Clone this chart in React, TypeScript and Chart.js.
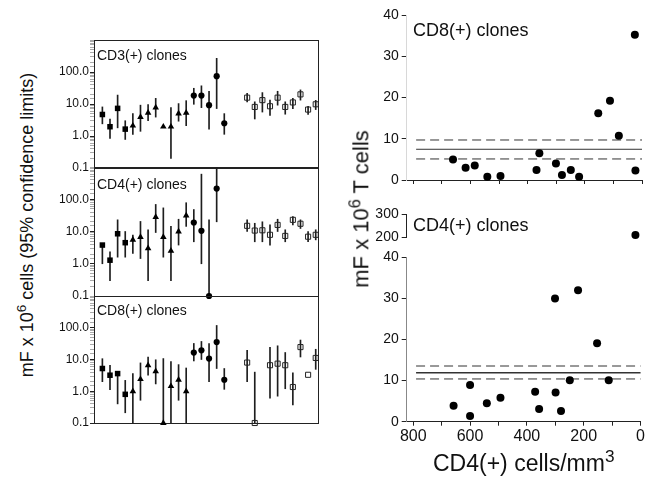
import React, { useEffect, useRef } from "react";
import { Chart, registerables } from "chart.js";

Chart.register(...registerables);

const FONT = '"Liberation Sans", Arial, Helvetica, sans-serif';
const INK = "#111";

// ---------------- Left panels: mF x 10^6 cells, 95% confidence limits ----------------
const squareSlots = [0, 1, 2, 3];
const triangleSlots = [4, 5, 6, 7, 8, 9, 10, 11];
const circleSlots = [12, 13, 14, 15, 16];
const openSquareSlots = [19, 20, 21, 22, 23, 24, 25, 26, 27, 28];

const cd3Values = [4.7, 1.95, 7.3, 1.64, 2.1, 3.9, 5.3, 7.7, 1.95, 1.95, 5.0, 5.3, 18.3, 18.3, 9.2, 74, 2.5, null, null, 15.8, 8.1, 13.2, 8.5, 15.8, 8.1, 11.2, 20, 6.7, 9.8];
const cd3Low = [2.4, 0.84, 1.8, 0.78, 1.13, 1.4, 3.0, 3.9, null, 0.2, 2.9, 2.1, 9.8, 7.7, 1.64, 7.2, 1.13, null, null, 11.7, 3.4, 5.6, 4.4, 9.2, 4.8, 7.2, 13.2, 4.7, 6.7];
const cd3High = [8.1, 3.4, 19, 3.0, 5.0, 9.2, 9.6, 15, null, 7.7, 10.3, 12.7, 31, 37, 25, 267, 5.0, null, null, 21.6, 11.7, 22.7, 13.2, 25, 11.7, 15, 27.6, 8.5, 13];

const cd4Values = [3.8, 1.29, 8.5, 4.5, 5.5, 6.7, 3.0, 28, 6.7, 2.5, 10, 31, 19, 10.5, 0.1, 214, null, null, null, 15, 10.7, 10.9, 7.9, 16, 7.3, 23, 17.4, 6.9, 7.9];
const cd4Low = [1.0, 0.3, 1.6, 1.6, 2.1, 1.45, 0.3, 9.3, 1.6, 0.3, 3.8, 14.4, 4.8, 1.0, 0.1, 20, null, null, null, 10, 4.8, 4.8, 3.8, 10, 4.8, 16, 12.4, 4.8, 5.5];
const cd4High = [3.8, 2.35, 23, 10, 7.8, 20.5, 11.3, 69, 54, 14.4, 24, 78, 48, 600, 23, 1000, null, null, null, 23, 18, 20, 16, 24, 11.3, 29, 23, 10, 11.3];

const cd8Values = [5.2, 3.2, 3.6, 0.8, 1.0, 2.4, 6.6, 4.25, 0.1, 1.44, 2.3, 1.0, 16.5, 19.5, 10.7, 35.5, 2.3, null, null, 8, 0.1, null, 6.6, 7.4, 6.6, 1.36, 24.6, 3.3, 11.2];
const cd8Low = [2.0, 1.13, 0.4, 0.21, 0.1, 0.52, 3.2, 1.7, 0.1, 0.1, 0.52, 0.1, 9, 10, 2.0, 5.2, 1.15, null, null, 2.0, 0.1, null, 0.6, 0.7, 1.2, 0.37, 12, null, 4.9];
const cd8High = [10.6, 6.6, 3.6, 2.2, 3.6, 7.8, 12, 9.8, 10.7, 8.6, 6.9, 5.4, 32, 37, 32, 118, 5.2, null, null, 19.5, 4, null, 24, 27, 16.6, 3.8, 41, null, 21];

const leftTickValues = [0.1, 1, 10, 100];
const leftTickLabels = ["0.1", "1.0", "10.0", "100.0"];

// ---------------- Right panels: mF vs CD4(+) cells/mm3 ----------------
const cd8CellCounts = [661, 617, 585, 541, 495, 369, 359, 301, 280, 249, 220, 153, 112, 81, 25, 23];
const cd8Mf = [5.0, 3.0, 3.5, 0.8, 1.0, 2.4, 6.5, 4.0, 1.2, 2.4, 0.8, 16.2, 19.2, 10.7, 35.2, 2.3];
const cd8Mean = 7.45;
const cd8LowerLimit = 5.1;
const cd8UpperLimit = 9.7;

const cd4CellCounts = [658, 600, 600, 541, 493, 371, 357, 301, 299, 280, 249, 220, 153, 112];
const cd4Mf = [3.9, 8.9, 1.4, 4.5, 5.8, 7.3, 3.1, 30.0, 7.1, 2.6, 10.1, 32.0, 19.1, 10.1];
const cd4HighCellCounts = [23];
const cd4HighMf = [210];
const cd4Mean = 11.9;
const cd4LowerLimit = 10.4;
const cd4UpperLimit = 13.55;

const refLineFrom = 790;
const refLineTo = 0;
const xTickLabelValues = [800, 600, 400, 200, 0];

// ---------------- helpers ----------------
const framePlugin = {
  id: "frame",
  beforeDatasetsDraw(chart: any) {
    const { ctx, chartArea } = chart;
    ctx.save();
    ctx.strokeStyle = "#222";
    ctx.lineWidth = 1;
    ctx.strokeRect(
      Math.round(chartArea.left) + 0.5,
      Math.round(chartArea.top) + 0.5,
      Math.round(chartArea.right - chartArea.left),
      Math.round(chartArea.bottom - chartArea.top)
    );
    ctx.restore();
  },
};

const sameLog = (a: number, b: number) => Math.abs(Math.log10(a) - Math.log10(b)) < 1e-6;

function leftPanelConfig(values: (number | null)[], low: (number | null)[], high: (number | null)[], padTop: number, padBottom: number): any {
  const pts = (slots: number[]) =>
    slots.filter((i) => values[i] != null).map((i) => ({ x: i, y: values[i] as number }));
  const bars = values
    .map((_, i) => (low[i] != null && high[i] != null ? { x: i, y: [low[i] as number, high[i] as number] } : null))
    .filter(Boolean);
  const pointBase = { type: "scatter", clip: false, order: 0, borderColor: "#000", borderWidth: 0 };
  return {
    type: "scatter",
    data: {
      datasets: [
        { type: "bar", data: bars, backgroundColor: "#1e1e1e", barThickness: 1, order: 2, clip: 0 },
        { ...pointBase, data: pts(squareSlots), pointStyle: "rect", pointRadius: 3.9, backgroundColor: "#000" },
        { ...pointBase, data: pts(triangleSlots), pointStyle: "triangle", pointRadius: 3.8, backgroundColor: "#000" },
        { ...pointBase, data: pts(circleSlots), pointStyle: "circle", pointRadius: 3.1, backgroundColor: "#000" },
        { ...pointBase, data: pts(openSquareSlots), pointStyle: "rect", pointRadius: 3.6, backgroundColor: "rgba(0,0,0,0)", borderWidth: 1, borderColor: "#222" },
      ],
    },
    options: {
      animation: false,
      responsive: false,
      devicePixelRatio: 1,
      events: [],
      layout: { padding: { top: padTop, bottom: padBottom, left: 0, right: 1 } },
      plugins: { legend: { display: false }, tooltip: { enabled: false } },
      scales: {
        x: { type: "linear", min: -1.1, max: 28.3, display: false, offset: false, grid: { offset: false } },
        y: {
          type: "logarithmic",
          min: 0.1,
          max: 1000,
          afterFit: (s: any) => {
            s.width = 54;
          },
          border: { display: true, color: "#555" },
          grid: {
            drawOnChartArea: false,
            tickLength: 4,
            tickColor: (c: any) =>
              c.tick && leftTickValues.some((t) => sameLog(t, c.tick.value)) ? "#222" : "#aaa",
          },
          ticks: {
            autoSkip: false,
            padding: 1,
            color: INK,
            font: { family: FONT, size: 12 },
            callback: (v: any) => {
              const i = leftTickValues.findIndex((t) => sameLog(t, Number(v)));
              return i >= 0 ? leftTickLabels[i] : "";
            },
          },
        },
      },
    },
    plugins: [framePlugin],
  };
}

function rightX(height: number, showLabels: boolean, display = true): any {
  return {
    type: "linear",
    min: 0,
    max: 823,
    reverse: true,
    display,
    afterFit: (s: any) => {
      s.height = height;
    },
    border: { display: true, color: "#222" },
    grid: { drawOnChartArea: false, tickLength: 4, tickColor: "#222" },
    ticks: {
      stepSize: 100,
      includeBounds: false,
      autoSkip: false,
      maxRotation: 0,
      padding: 1,
      color: INK,
      font: { family: FONT, size: 16 },
      callback: (v: any) => (showLabels && xTickLabelValues.includes(Number(v)) ? String(v) : ""),
    },
  };
}

function rightY(min: number, max: number, step: number, borderColor: string): any {
  return {
    type: "linear",
    min,
    max,
    afterFit: (s: any) => {
      s.width = 56.7;
    },
    border: { display: true, color: borderColor },
    grid: { drawOnChartArea: false, tickLength: 5, tickColor: "#222" },
    ticks: { stepSize: step, padding: 3, color: INK, font: { family: FONT, size: 14 } },
  };
}

const refLine = (y: number, dashed: boolean, width = 1) => ({
  type: "line",
  data: [
    { x: refLineFrom, y },
    { x: refLineTo, y },
  ],
  borderColor: "#333",
  borderWidth: width,
  borderDash: dashed ? [9, 5] : [],
  pointRadius: 0,
  order: 1,
  clip: false,
});

const dots = (xs: number[], ys: number[]) => ({
  type: "scatter",
  data: xs.map((x, i) => ({ x, y: ys[i] })),
  pointStyle: "circle",
  pointRadius: 4,
  backgroundColor: "#000",
  borderWidth: 0,
  order: 0,
  clip: false,
});

const baseRightOptions = (padding: any) => ({
  animation: false,
  responsive: false,
  devicePixelRatio: 1,
  events: [],
  layout: { padding },
  plugins: { legend: { display: false }, tooltip: { enabled: false } },
});

function cd8RightConfig(): any {
  return {
    type: "scatter",
    data: {
      datasets: [
        dots(cd8CellCounts, cd8Mf),
        refLine(cd8Mean, false),
        refLine(cd8UpperLimit, true),
        refLine(cd8LowerLimit, true),
      ],
    },
    options: {
      ...baseRightOptions({ top: 15, bottom: 0, left: 0, right: 2.7 }),
      scales: { x: rightX(20, false), y: rightY(0, 40, 10, "#d8d8d8") },
    },
  };
}

function cd4UpperConfig(): any {
  return {
    type: "scatter",
    data: { datasets: [dots(cd4HighCellCounts, cd4HighMf)] },
    options: {
      ...baseRightOptions({ top: 14, bottom: 12.7, left: 0, right: 2.7 }),
      scales: { x: rightX(0, false, false), y: rightY(200, 300, 100, "#222") },
    },
  };
}

function cd4LowerConfig(): any {
  return {
    type: "scatter",
    data: {
      datasets: [
        dots(cd4CellCounts, cd4Mf),
        refLine(cd4Mean, false, 1.5),
        refLine(cd4UpperLimit, true),
        refLine(cd4LowerLimit, true),
      ],
    },
    options: {
      ...baseRightOptions({ top: 17.3, bottom: 0, left: 0, right: 2.7 }),
      scales: { x: rightX(28.3, true), y: rightY(0, 40, 10, "#888") },
    },
  };
}

function ChartCanvas({ left, top, width, height, make }: { left: number; top: number; width: number; height: number; make: () => any }) {
  const ref = useRef<HTMLCanvasElement>(null);
  useEffect(() => {
    const chart = new Chart(ref.current as HTMLCanvasElement, make());
    return () => chart.destroy();
  }, []);
  return (
    <canvas
      ref={ref}
      width={width}
      height={height}
      style={{ position: "absolute", left, top, width, height }}
    />
  );
}

function Text({ x, y, size, children }: { x: number; y: number; size: number; children: React.ReactNode }) {
  return (
    <div
      style={{
        position: "absolute",
        left: x,
        top: y,
        transform: "translateY(-50%)",
        fontFamily: FONT,
        fontSize: size,
        lineHeight: 1.15,
        color: INK,
        whiteSpace: "nowrap",
      }}
    >
      {children}
    </div>
  );
}

function VText({ cx, cy, size, children }: { cx: number; cy: number; size: number; children: React.ReactNode }) {
  return (
    <div
      style={{
        position: "absolute",
        left: cx,
        top: cy,
        transformOrigin: "0 0",
        transform: "rotate(-90deg) translate(-50%, -50%)",
        fontFamily: FONT,
        fontSize: size,
        lineHeight: 1.15,
        color: INK,
        whiteSpace: "nowrap",
      }}
    >
      {children}
    </div>
  );
}

const Sup = ({ children }: { children: React.ReactNode }) => (
  <span style={{ fontSize: "0.75em", verticalAlign: "0.5em", lineHeight: 0 }}>{children}</span>
);

export default function App() {
  return (
    <div
      style={{
        position: "absolute",
        left: 0,
        top: 0,
        width: 646,
        height: 480,
        background: "#fff",
        overflow: "hidden",
      }}
    >
      <ChartCanvas left={40} top={30} width={283} height={148} make={() => leftPanelConfig(cd3Values, cd3Low, cd3High, 10, 10)} />
      <ChartCanvas left={40} top={157} width={283} height={149} make={() => leftPanelConfig(cd4Values, cd4Low, cd4High, 10, 10)} />
      <ChartCanvas left={40} top={286} width={283} height={147} make={() => leftPanelConfig(cd8Values, cd8Low, cd8High, 10, 10)} />

      <ChartCanvas left={350} top={0} width={296} height={200} make={cd8RightConfig} />
      <ChartCanvas left={350} top={200} width={296} height={50} make={cd4UpperConfig} />
      <ChartCanvas left={350} top={240} width={296} height={210} make={cd4LowerConfig} />

      <Text x={97} y={54.5} size={14}>CD3(+) clones</Text>
      <Text x={97} y={184} size={14}>CD4(+) clones</Text>
      <Text x={97} y={310} size={14}>CD8(+) clones</Text>

      <Text x={413} y={29.5} size={18}>CD8(+) clones</Text>
      <Text x={413} y={225} size={18}>CD4(+) clones</Text>

      <Text x={433} y={463} size={23}>
        CD4(+) cells/mm<Sup>3</Sup>
      </Text>

      <VText cx={27} cy={225} size={18}>
        mF x 10<Sup>6</Sup> cells (95% confidence limits)
      </VText>
      <VText cx={361} cy={209} size={22}>
        mF x 10<Sup>6</Sup> T cells
      </VText>
    </div>
  );
}
